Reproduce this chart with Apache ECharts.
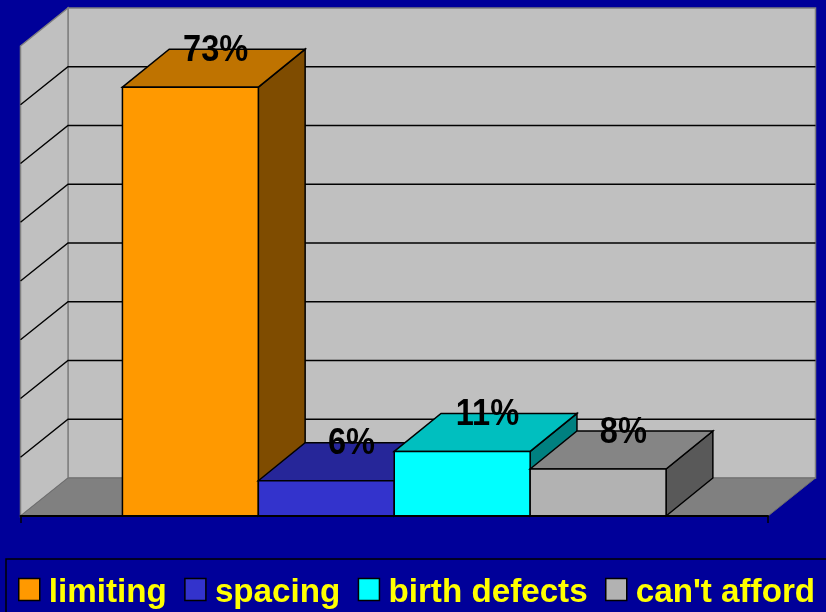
<!DOCTYPE html>
<html>
<head>
<meta charset="utf-8">
<style>html,body{margin:0;padding:0;background:#000099}#c{width:826px;height:612px}</style>
<script src="https://cdn.jsdelivr.net/npm/echarts@6/dist/echarts.min.js"></script>
</head>
<body>
<div id="c"></div>
<script>
const names = ['limiting', 'spacing', 'birth defects', "can't afford"];
const values = [73, 6, 11, 8];
const gridValues = [10, 20, 30, 40, 50, 60, 70];
const yMin = 0, yMax = 80, yStep = 10;
const frontColors = ['#FF9900', '#3333CC', '#00FFFF', '#B2B2B2'];
const topColors = ['#BF7300', '#262699', '#00BFBF', '#858585'];
const sideColors = ['#7F4C00', '#1A1A66', '#008080', '#595959'];

const DX = 47.5, DY = -38, BAR_DX = 46.8;
const FONT = 'Liberation Sans, Arial, sans-serif';
const chart = echarts.init(document.getElementById('c'), null, {renderer: 'canvas'});

function poly(points, fill, stroke, lw) {
  return {type: 'polygon', shape: {points: points},
    style: {fill: fill, stroke: stroke, lineWidth: lw, lineJoin: 'miter'}};
}
function renderWalls(params, api) {
  const b = api.coord([0, yMin]), t = api.coord([0, yMax]), w = api.size([1, 0])[0];
  const l = b[0] - w / 2, r = b[0] + w / 2, by = b[1], ty = t[1];
  const wall = '#C0C0C0', floor = '#808080', edge = '#808080';
  return {type: 'group', children: [
    poly([[l + DX, ty + DY], [r + DX, ty + DY], [r + DX, by + DY], [l + DX, by + DY]], wall, edge, 1.5),
    poly([[l, ty], [l + DX, ty + DY], [l + DX, by + DY], [l, by]], wall, edge, 1.5),
    poly([[l, by], [r, by], [r + DX, by + DY], [l + DX, by + DY]], floor, '#6E6E6E', 1)
  ]};
}
function renderGrid(params, api) {
  const p = api.coord([0, api.value(1)]), w = api.size([1, 0])[0];
  const l = p[0] - w / 2, r = p[0] + w / 2, y = p[1];
  return {type: 'polyline', shape: {points: [[l, y], [l + DX, y + DY], [r + DX, y + DY]]},
    style: {fill: null, stroke: '#000', lineWidth: 1.4}};
}
function makeBar(i) {
  return function (params, api) {
    const v = api.value(1);
    const base = api.coord([0, 0]), tp = api.coord([0, v]), band = api.size([1, 0])[0];
    const bw = band / (names.length + 1.5);
    const x0 = base[0] - bw * names.length / 2 + i * bw, x1 = x0 + bw;
    const yb = base[1], yt = tp[1];
    return {type: 'group', children: [
      poly([[x1, yt], [x1 + BAR_DX, yt + DY], [x1 + BAR_DX, yb + DY], [x1, yb]], sideColors[i], '#000', 1.5),
      poly([[x0, yt], [x0 + BAR_DX, yt + DY], [x1 + BAR_DX, yt + DY], [x1, yt]], topColors[i], '#000', 1.5),
      poly([[x0, yt], [x1, yt], [x1, yb], [x0, yb]], frontColors[i], '#000', 1.5),
      {type: 'text', z2: 10,
        x: (x0 + x1) / 2 + DX / 2 + 1.5, y: yt + DY + 1.5, scaleX: 0.88, scaleY: 1,
        style: {text: v + '%', x: 0, y: 0,
          textAlign: 'center', textVerticalAlign: 'middle',
          font: 'bold 37px ' + FONT, fill: '#000'}}
    ]};
  };
}
const series = [
  {type: 'custom', name: 'walls', silent: true, data: [[0, 0]], encode: {x: 0, y: 1}, renderItem: renderWalls, clip: false},
  {type: 'custom', name: 'grid', silent: true, data: gridValues.map(v => [0, v]), encode: {x: 0, y: 1}, renderItem: renderGrid, clip: false}
];
names.forEach((n, i) => series.push({
  type: 'custom', name: n, data: [[0, values[i]]], encode: {x: 0, y: 1},
  itemStyle: {color: frontColors[i]}, renderItem: makeBar(i), clip: false
}));

chart.setOption({
  animation: false,
  backgroundColor: '#000099',
  grid: {left: 20.5, right: 58, top: 46, bottom: 96},
  xAxis: {type: 'category', data: ['all'], z: 5,
    axisLine: {show: true, lineStyle: {color: '#000', width: 2}},
    axisTick: {show: true, length: 7, alignWithLabel: false, lineStyle: {color: '#000', width: 1.5}},
    axisLabel: {show: false}, splitLine: {show: false}},
  yAxis: {type: 'value', min: yMin, max: yMax, interval: yStep,
    axisLine: {show: false}, axisTick: {show: false}, axisLabel: {show: false}, splitLine: {show: false}},
  legend: {
    data: names.map((n, i) => ({name: n, itemStyle: {color: frontColors[i]}})),
    left: 6, top: 559, width: 1000, orient: 'horizontal', icon: 'rect',
    itemWidth: 21, itemHeight: 22, itemGap: 17.4,
    padding: [17, 30, 20, 12],
    backgroundColor: '#000099', borderColor: '#000', borderWidth: 1.5,
    selectedMode: false,
    itemStyle: {borderColor: '#000', borderWidth: 1.5},
    formatter: n => '{t|' + n + '}',
    textStyle: {color: '#FFFF00', fontFamily: FONT, fontWeight: 'bold', fontSize: 33.2,
      rich: {t: {color: '#FFFF00', fontFamily: FONT, fontWeight: 'bold', fontSize: 33.2, padding: [6, 0, 0, 4]}}}
  },
  series: series
});
</script>
</body>
</html>
